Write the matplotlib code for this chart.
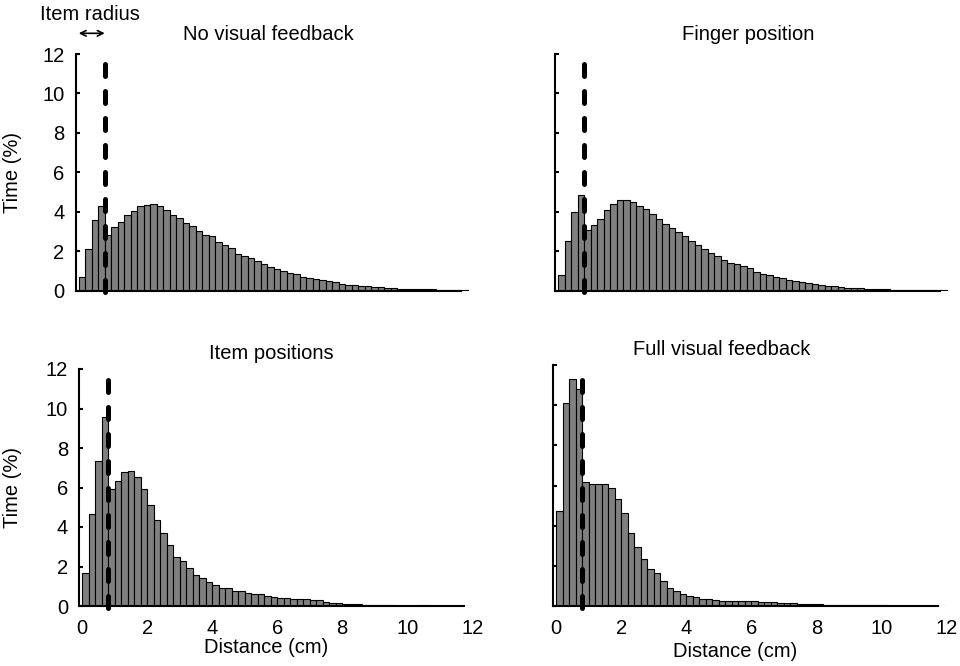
import numpy as np
import matplotlib
matplotlib.use("Agg")
import matplotlib.pyplot as plt

plt.rcParams['font.family'] = ['Liberation Sans', 'DejaVu Sans']
plt.rcParams['font.size'] = 14.5

# ---- data ----
bin_width = 0.2
bin_starts = np.round(np.arange(60) * bin_width, 1)   # distance bins (cm)
item_radius = 0.8

no_visual = [0.7, 2.1, 3.6, 4.3, 2.8, 3.2, 3.5, 3.85, 4.05, 4.3, 4.35, 4.4, 4.3, 4.1, 3.85,
             3.7, 3.45, 3.25, 3.0, 2.8, 2.75, 2.45, 2.3, 2.15, 1.85, 1.75, 1.65, 1.5, 1.35, 1.2,
             1.1, 1.0, 0.9, 0.85, 0.68, 0.64, 0.58, 0.51, 0.49, 0.41, 0.35, 0.3, 0.26, 0.24, 0.22,
             0.19, 0.17, 0.14, 0.12, 0.1, 0.09, 0.08, 0.07, 0.06, 0.06, 0.05, 0.05, 0.04, 0.04, 0.03]

finger_pos = [0.8, 2.5, 4.0, 4.85, 3.05, 3.3, 3.65, 4.08, 4.4, 4.58, 4.6, 4.47, 4.3, 4.14, 3.88,
              3.63, 3.37, 3.17, 2.97, 2.75, 2.53, 2.29, 2.1, 1.92, 1.73, 1.56, 1.4, 1.34, 1.25, 1.12,
              0.95, 0.85, 0.78, 0.7, 0.62, 0.55, 0.48, 0.42, 0.37, 0.32, 0.28, 0.24, 0.21, 0.18, 0.15,
              0.13, 0.11, 0.09, 0.08, 0.07, 0.06, 0.05, 0.04, 0.04, 0.03, 0.03, 0.02, 0.02, 0.02, 0.02]

item_pos = [1.66, 4.66, 7.35, 9.56, 5.91, 6.33, 6.76, 6.86, 6.52, 5.93, 5.12, 4.36, 3.68, 3.09, 2.5,
            2.28, 1.91, 1.57, 1.4, 1.2, 1.06, 0.93, 0.93, 0.78, 0.74, 0.64, 0.59, 0.59,
            0.5, 0.48, 0.42, 0.4, 0.37, 0.35, 0.34, 0.32, 0.3, 0.2, 0.17, 0.15, 0.12, 0.1, 0.08,
            0.07, 0.05, 0.04, 0.03, 0.03, 0.02, 0.02, 0.02, 0.02, 0.03, 0.02, 0.01, 0.01, 0.01,
            0.01, 0.01, 0.01]

full_visual = [4.73, 10.1, 11.3, 10.8, 6.19, 6.06, 6.07, 6.06, 5.89, 5.33, 4.61, 3.62, 2.95, 2.32,
               1.86, 1.66, 1.23, 0.9, 0.76, 0.6, 0.5, 0.45, 0.37, 0.33, 0.3, 0.27,
               0.25, 0.25, 0.24, 0.24, 0.24, 0.22, 0.2, 0.18, 0.17, 0.15, 0.13, 0.12, 0.1, 0.09,
               0.08, 0.07, 0.06, 0.05, 0.05, 0.04, 0.04, 0.03, 0.03, 0.03, 0.03, 0.02, 0.02, 0.02,
               0.02, 0.02, 0.01, 0.01, 0.01, 0.01]

titles = ["No visual feedback", "Finger position", "Item positions", "Full visual feedback"]
series = [no_visual, finger_pos, item_pos, full_visual]
x_ticks = [0, 2, 4, 6, 8, 10, 12]
y_ticks = [0, 2, 4, 6, 8, 10, 12]

# ---- layout (figure fractions) ----
W, H = 960, 666
fig = plt.figure(figsize=(9.6, 6.66), dpi=100)
xspan = 12.1
px_per_cm = 32.5
axw = xspan * px_per_cm
boxes = [  # left px, top px, bottom px
    (75.5, 54, 290.5),
    (555, 54, 290.5),
    (79, 369, 606),
    (553, 365, 606),
]
title_x = [0.49, 0.49, 0.49, 0.43]
title_pad = [10, 10, 7, 7]

axes = []
for i, (lx, top, bot) in enumerate(boxes):
    ax = fig.add_axes([lx / W, (H - bot) / H, axw / W, (bot - top) / H])
    axes.append(ax)
    ax.bar(bin_starts, series[i], width=bin_width, align='edge',
           color='#808080', edgecolor='black', linewidth=0.8, zorder=2)
    ax.set_xlim(-0.1, 12.0)
    ax.set_ylim(0, 12)
    ax.plot([item_radius, item_radius], [-0.1, 12], color='black', lw=3.6,
            dashes=(2.4, 3.0), dash_capstyle='round', solid_capstyle='round',
            zorder=3, clip_on=False)
    for s in ['top', 'right']:
        ax.spines[s].set_visible(False)
    for s in ['left', 'bottom']:
        ax.spines[s].set_linewidth(1.5)
    ax.spines['bottom'].set_bounds(-0.1, 11.75)
    ax.set_yticks(y_ticks)
    ax.tick_params(axis='y', direction='in', length=3, width=1.5, pad=8)
    ax.set_xticks(x_ticks)
    if i < 2:
        ax.tick_params(axis='x', length=0, labelbottom=False)
    else:
        ax.tick_params(axis='x', length=0, pad=9)
    if i in (1, 3):
        ax.tick_params(axis='y', labelleft=False)
    ax.set_title(titles[i], x=title_x[i], pad=title_pad[i], fontsize=14.5)

axes[0].set_ylabel("Time (%)")
axes[0].yaxis.set_label_coords(-0.135, 0.5)
axes[2].set_ylabel("Time (%)")
axes[2].yaxis.set_label_coords(-0.145, 0.5)
axes[2].set_xlabel("Distance (cm)")
axes[2].xaxis.set_label_coords(0.476, -0.134)
axes[3].set_xlabel("Distance (cm)")
axes[3].xaxis.set_label_coords(0.463, -0.148)

# item radius annotation
ax = axes[0]
ax.annotate("", xy=(0.0, 13.05), xytext=(item_radius, 13.05),
            arrowprops=dict(arrowstyle='<->', color='black', lw=1.2,
                            shrinkA=0, shrinkB=0, mutation_scale=10),
            annotation_clip=False)
ax.text(0.35, 14.0, "Item radius", ha='center', va='center', fontsize=14.5,
        clip_on=False)

fig.savefig("out.png", dpi=100)
